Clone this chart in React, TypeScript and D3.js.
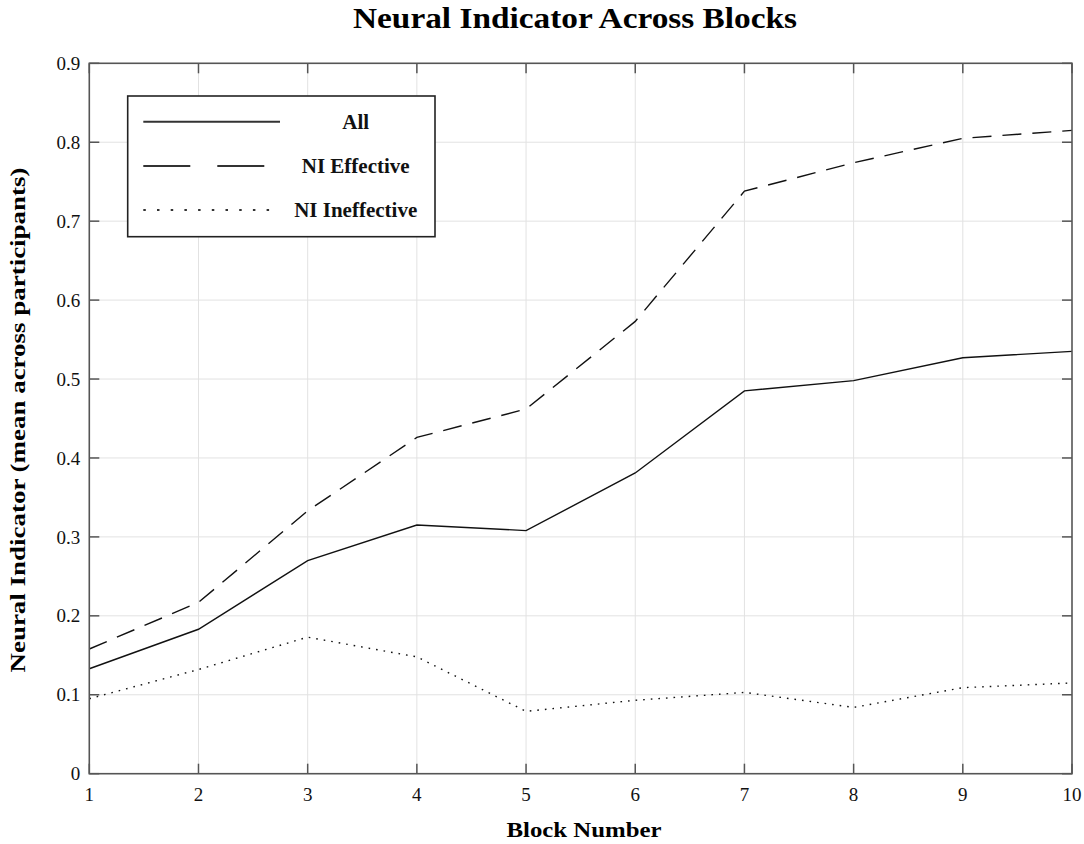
import * as d3 from 'd3';

const blocks = [1, 2, 3, 4, 5, 6, 7, 8, 9, 10];
const allValues = [0.133, 0.183, 0.27, 0.315, 0.308, 0.381, 0.485, 0.498, 0.527, 0.535];
const effectiveValues = [0.158, 0.217, 0.333, 0.426, 0.462, 0.573, 0.738, 0.774, 0.805, 0.815];
const ineffectiveValues = [0.095, 0.132, 0.173, 0.148, 0.079, 0.093, 0.103, 0.084, 0.109, 0.115];
const yTicks = [0, 0.1, 0.2, 0.3, 0.4, 0.5, 0.6, 0.7, 0.8, 0.9];
const seriesNames = ['All', 'NI Effective', 'NI Ineffective'];

const W = 1084;
const H = 844;
const margin = { top: 63.3, right: 12, bottom: 70.3, left: 89.3 };
const FONT = '"Liberation Serif", "Times New Roman", serif';

export default function App() {
  const innerW = W - margin.left - margin.right;
  const innerH = H - margin.top - margin.bottom;

  const x = d3.scaleLinear().domain([1, 10]).range([0, innerW]);
  const y = d3.scaleLinear().domain([0, 0.9]).range([innerH, 0]);

  const line = d3
    .line<number>()
    .x((_, i) => x(blocks[i]))
    .y(d => y(d));

  const series = [
    { name: seriesNames[0], values: allValues, dash: undefined, legendDash: undefined },
    { name: seriesNames[1], values: effectiveValues, dash: '19,11', legendDash: '47,27' },
    { name: seriesNames[2], values: ineffectiveValues, dash: '1.6,6', legendDash: '2.5,11.2' },
  ];

  const axisColor = '#555';
  const tickLen = 10;

  return (
    <div style={{ position: 'absolute', left: 0, top: 0 }}>
      <svg width={W} height={H} style={{ display: 'block', background: '#fff' }}>
        <text
          x={575}
          y={28}
          textAnchor="middle"
          fontFamily={FONT}
          fontWeight="bold"
          fontSize={30}
          textLength={444}
          lengthAdjust="spacingAndGlyphs"
        >
          Neural Indicator Across Blocks
        </text>

        <g transform={`translate(${margin.left},${margin.top})`}>
          {/* grid */}
          {blocks.slice(1, -1).map(b => (
            <line key={`gx${b}`} x1={x(b)} x2={x(b)} y1={0} y2={innerH} stroke="#e2e2e2" strokeWidth={1} />
          ))}
          {yTicks.slice(1, -1).map(t => (
            <line key={`gy${t}`} x1={0} x2={innerW} y1={y(t)} y2={y(t)} stroke="#e2e2e2" strokeWidth={1} />
          ))}

          {/* series */}
          {series.map(s => (
            <path
              key={s.name}
              d={line(s.values) || ''}
              fill="none"
              stroke="#111"
              strokeWidth={1.4}
              strokeDasharray={s.dash}
            />
          ))}

          {/* ticks, inward on all sides */}
          {blocks.map(b => (
            <g key={`tx${b}`}>
              <line x1={x(b)} x2={x(b)} y1={innerH} y2={innerH - tickLen} stroke={axisColor} strokeWidth={1.5} />
              <line x1={x(b)} x2={x(b)} y1={0} y2={tickLen} stroke={axisColor} strokeWidth={1.5} />
              <text
                x={x(b)}
                y={innerH + 27}
                textAnchor="middle"
                fontFamily={FONT}
                fontSize={19}
                fill="#111"
              >
                {b}
              </text>
            </g>
          ))}
          {yTicks.map(t => (
            <g key={`ty${t}`}>
              <line x1={0} x2={tickLen} y1={y(t)} y2={y(t)} stroke={axisColor} strokeWidth={1.5} />
              <line x1={innerW} x2={innerW - tickLen} y1={y(t)} y2={y(t)} stroke={axisColor} strokeWidth={1.5} />
              <text
                x={-9}
                y={y(t)}
                dy="0.35em"
                textAnchor="end"
                fontFamily={FONT}
                fontSize={19}
                fill="#111"
              >
                {t === 0 ? '0' : d3.format('.1f')(t)}
              </text>
            </g>
          ))}

          {/* axes box */}
          <rect x={0} y={0} width={innerW} height={innerH} fill="none" stroke={axisColor} strokeWidth={1.6} />

          {/* legend */}
          <g transform={`translate(${127.7 - margin.left},${96 - margin.top})`}>
            <rect x={0} y={0} width={307.3} height={140.7} fill="#fff" stroke="#222" strokeWidth={1.6} />
            {series.map((s, i) => {
              const ly = 25.7 + i * 44.2;
              return (
                <g key={`lg${s.name}`}>
                  <line
                    x1={15.6}
                    x2={152.3}
                    y1={ly}
                    y2={ly}
                    stroke="#333"
                    strokeWidth={2}
                    strokeDasharray={s.legendDash}
                  />
                  <text
                    x={228}
                    y={ly + 7}
                    textAnchor="middle"
                    fontFamily={FONT}
                    fontWeight="bold"
                    fontSize={21}
                    fill="#111"
                  >
                    {s.name}
                  </text>
                </g>
              );
            })}
          </g>
        </g>

        {/* axis titles */}
        <text
          x={584}
          y={837}
          textAnchor="middle"
          fontFamily={FONT}
          fontWeight="bold"
          fontSize={22}
          textLength={155}
          lengthAdjust="spacingAndGlyphs"
        >
          Block Number
        </text>
        <text
          transform={`translate(25,420) rotate(-90)`}
          textAnchor="middle"
          fontFamily={FONT}
          fontWeight="bold"
          fontSize={22}
          textLength={505}
          lengthAdjust="spacingAndGlyphs"
        >
          Neural Indicator (mean across participants)
        </text>
      </svg>
    </div>
  );
}
